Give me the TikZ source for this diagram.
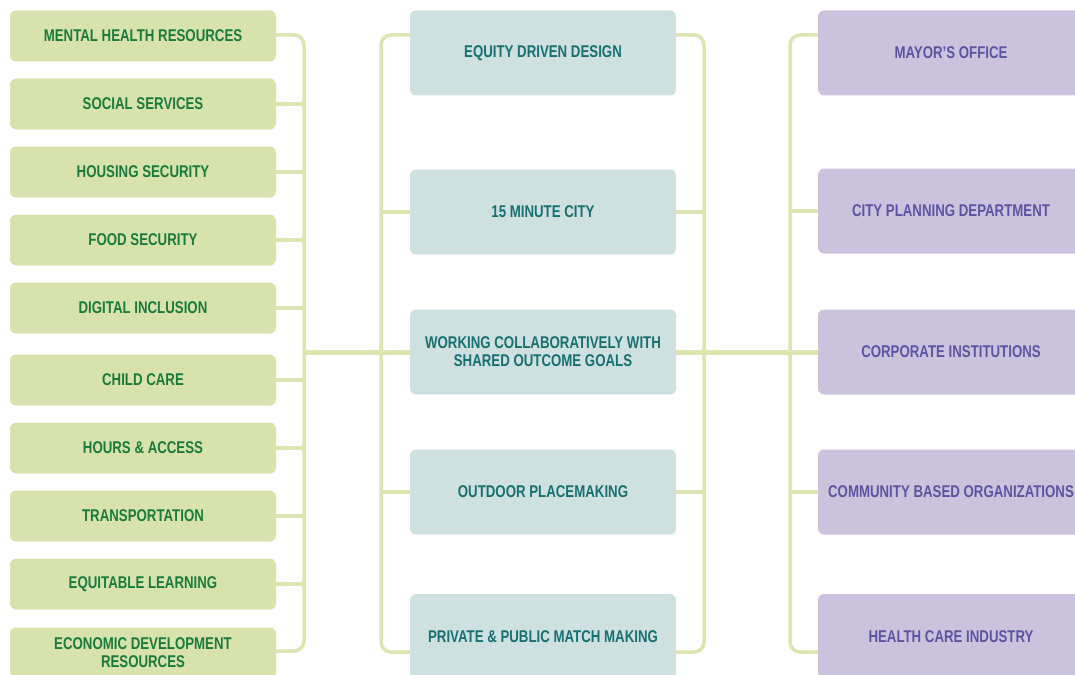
\documentclass[tikz,border=0pt]{standalone}
\usepackage{fontspec}
\setmainfont{Liberation Sans}[FakeStretch=0.78]
\definecolor{leftfill}{HTML}{D8E2AC}
\definecolor{lefttext}{HTML}{1A7A3C}
\definecolor{midfill}{HTML}{CFE0E0}
\definecolor{midtext}{HTML}{16706F}
\definecolor{rightfill}{HTML}{CBC3DE}
\definecolor{righttext}{HTML}{5C54A0}
\definecolor{linkcol}{HTML}{DCE5AF}
\tikzset{
  box/.style={rounded corners=6pt, inner sep=0pt, align=center,
    font=\fontsize{17}{18}\selectfont\bfseries},
  leftbox/.style={box, fill=leftfill, text=lefttext, minimum width=266pt, minimum height=51pt},
  midbox/.style={box, fill=midfill, text=midtext, minimum width=266pt, minimum height=85pt},
  rightbox/.style={box, fill=rightfill, text=righttext, minimum width=266pt, minimum height=85pt},
  bracket/.style={draw=linkcol, line width=3.5pt, rounded corners=10pt},
  stub/.style={draw=linkcol, line width=3.5pt},
  trunk/.style={draw=linkcol, line width=5pt},
}
\begin{document}
\begin{tikzpicture}[x=1pt, y=-1pt]
\useasboundingbox (0,0) rectangle (1075,674);
\clip (0,0) rectangle (1075,674);

% left column
\node[leftbox] (l1) at (143,36) {MENTAL HEALTH RESOURCES};
\node[leftbox] (l2) at (143,104) {SOCIAL SERVICES};
\node[leftbox] (l3) at (143,172) {HOUSING SECURITY};
\node[leftbox] (l4) at (143,240) {FOOD SECURITY};
\node[leftbox] (l5) at (143,308) {DIGITAL INCLUSION};
\node[leftbox] (l6) at (143,380) {CHILD CARE};
\node[leftbox] (l7) at (143,448) {HOURS \& ACCESS};
\node[leftbox] (l8) at (143,516) {TRANSPORTATION};
\node[leftbox] (l9) at (143,584) {EQUITABLE LEARNING};
\node[leftbox] (l10) at (143,653) {ECONOMIC DEVELOPMENT\\RESOURCES};

% middle column
\node[midbox] (m1) at (543,53) {EQUITY DRIVEN DESIGN};
\node[midbox] (m2) at (543,212) {15 MINUTE CITY};
\node[midbox] (m3) at (543,352) {WORKING COLLABORATIVELY WITH\\SHARED OUTCOME GOALS};
\node[midbox] (m4) at (543,492) {OUTDOOR PLACEMAKING};
\node[midbox] (m5) at (543,636.5) {PRIVATE \& PUBLIC MATCH MAKING};

% right column
\node[rightbox] (r1) at (951,53) {MAYOR’S OFFICE};
\node[rightbox] (r2) at (951,211) {CITY PLANNING DEPARTMENT};
\node[rightbox] (r3) at (951,352) {CORPORATE INSTITUTIONS};
\node[rightbox] (r4) at (951,492) {COMMUNITY BASED ORGANIZATIONS};
\node[rightbox] (r5) at (951,636.5) {HEALTH CARE INDUSTRY};

% left bracket
\coordinate (lx) at (304,0);
\draw[bracket] ([yshift=1pt]l1.east) -| (lx |- l5.east) |- ([yshift=2pt]l10.east);
\foreach \i in {2,...,9} \draw[stub] (l\i.east) -- (lx |- l\i.east);

% middle bracket, left and right sides
\coordinate (mlx) at (381,0);
\coordinate (mrx) at (704,0);
\draw[bracket] ([yshift=18pt]m1.west) -| (mlx |- m3.west) |- ([yshift=-15.5pt]m5.west);
\draw[bracket] ([yshift=18pt]m1.east) -| (mrx |- m3.east) |- ([yshift=-15.5pt]m5.east);
\foreach \i in {2,4} {
  \draw[stub] (m\i.west) -- (mlx |- m\i.west);
  \draw[stub] (m\i.east) -- (mrx |- m\i.east);
}

% right bracket
\coordinate (rx) at (790,0);
\draw[bracket] ([yshift=18pt]r1.west) -| (rx |- r3.west) |- ([yshift=-15.5pt]r5.west);
\foreach \i in {2,4} \draw[stub] (r\i.west) -- (rx |- r\i.west);

% main trunk through the centre row
\draw[trunk] (lx |- m3.west) -- (m3.west);
\draw[trunk] (m3.east) -- (r3.west);
\end{tikzpicture}
\end{document}
